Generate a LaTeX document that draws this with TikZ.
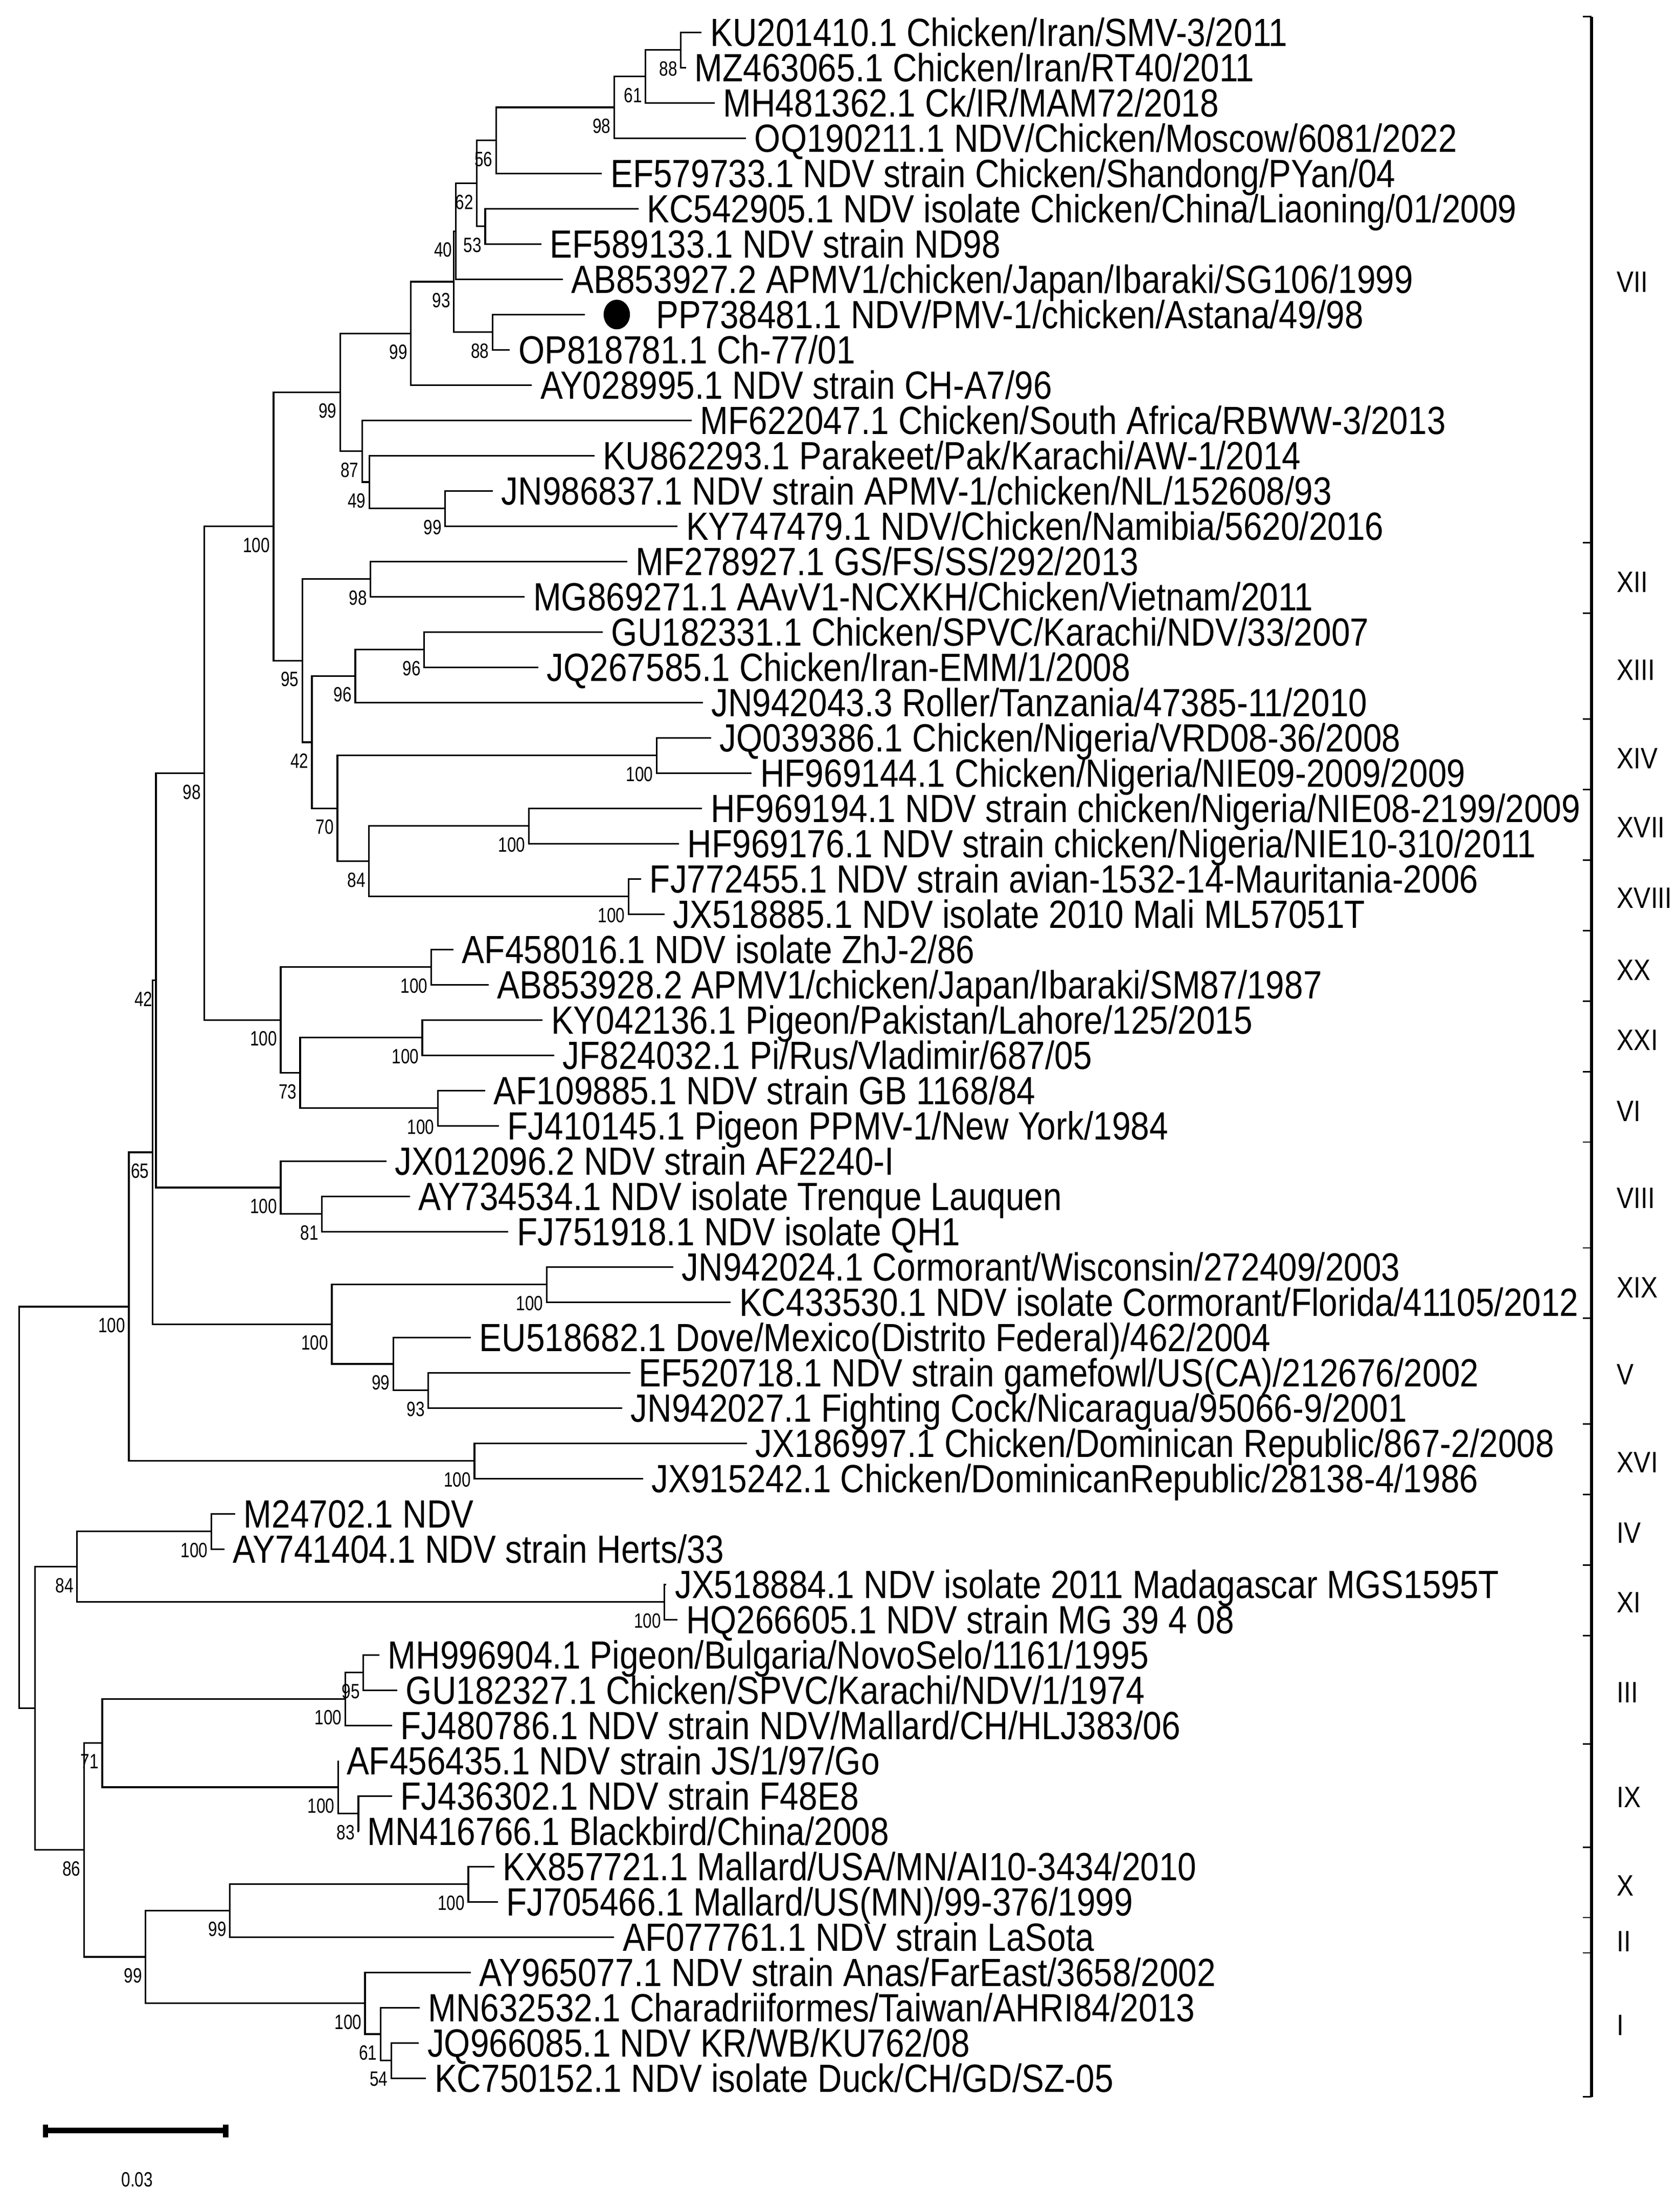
\documentclass[tikz,border=0pt]{standalone}
\usepackage{fontspec}
\newfontfamily\leaffont[FakeStretch=0.855]{Liberation Sans}
\newfontfamily\bsfont[FakeStretch=0.78]{Liberation Sans}
\newfontfamily\grpfont[FakeStretch=0.86]{Liberation Sans}
\tikzset{
  br/.style={line width=0.06cm, line join=miter},
  leaf/.style={anchor=base west, inner sep=0pt, font=\leaffont\fontsize{40}{40}\selectfont},
  bs/.style={anchor=north east, inner sep=0pt, font=\bsfont\fontsize{21}{21}\selectfont},
  grp/.style={anchor=west, inner sep=0pt, font=\grpfont\fontsize{30}{30}\selectfont},
}
\newcommand\leafn[3]{\coordinate (L#1) at (#2,{-25.2*#1+2.1});
  \node[leaf] (T#1) at ([xshift=0.3cm,yshift=-0.5cm]L#1) {#3};}
\newcommand\inode[6]{\coordinate (#1) at (#2,{-25.2*#3+2.1});
  \draw[br] (#1) |- (#4); \draw[br] (#1) |- (#5);
  \node[bs] (bs#1) at ([xshift=-0.12cm,yshift=-0.4cm]#1) {#6};}
\begin{document}
\begin{tikzpicture}[x=0.05cm,y=0.05cm]
\useasboundingbox (0,0) rectangle (1200,-1579.6);
\leafn{1}{501.2}{KU201410.1 Chicken/Iran/SMV-3/2011}
\leafn{2}{490}{MZ463065.1 Chicken/Iran/RT40/2011}
\leafn{3}{510.5}{MH481362.1 Ck/IR/MAM72/2018}
\leafn{4}{532.9}{OQ190211.1 NDV/Chicken/Moscow/6081/2022}
\leafn{5}{430}{EF579733.1 NDV strain Chicken/Shandong/PYan/04}
\leafn{6}{456}{KC542905.1 NDV isolate Chicken/China/Liaoning/01/2009}
\leafn{7}{386.6}{EF589133.1 NDV strain ND98}
\leafn{8}{402}{AB853927.2 APMV1/chicken/Japan/Ibaraki/SG106/1999}
\coordinate (L9) at (417.7,{-25.2*9+2.1});
\node[leaf] (T9) at ([xshift=2.55cm,yshift=-0.5cm]L9) {PP738481.1 NDV/PMV-1/chicken/Astana/49/98};
\fill (440.6,{-25.2*9+2.1}) ellipse [x radius=0.47cm, y radius=0.53cm];
\leafn{10}{364.3}{OP818781.1 Ch-77/01}
\leafn{11}{379.9}{AY028995.1 NDV strain CH-A7/96}
\leafn{12}{494}{MF622047.1 Chicken/South Africa/RBWW-3/2013}
\leafn{13}{424.7}{KU862293.1 Parakeet/Pak/Karachi/AW-1/2014}
\leafn{14}{352}{JN986837.1 NDV strain APMV-1/chicken/NL/152608/93}
\leafn{15}{484}{KY747479.1 NDV/Chicken/Namibia/5620/2016}
\leafn{16}{448}{MF278927.1 GS/FS/SS/292/2013}
\leafn{17}{374.8}{MG869271.1 AAvV1-NCXKH/Chicken/Vietnam/2011}
\leafn{18}{430.6}{GU182331.1 Chicken/SPVC/Karachi/NDV/33/2007}
\leafn{19}{384.5}{JQ267585.1 Chicken/Iran-EMM/1/2008}
\leafn{20}{502}{JN942043.3 Roller/Tanzania/47385-11/2010}
\leafn{21}{508}{JQ039386.1 Chicken/Nigeria/VRD08-36/2008}
\leafn{22}{537}{HF969144.1 Chicken/Nigeria/NIE09-2009/2009}
\leafn{23}{501.6}{HF969194.1 NDV strain chicken/Nigeria/NIE08-2199/2009}
\leafn{24}{485}{HF969176.1 NDV strain chicken/Nigeria/NIE10-310/2011}
\leafn{25}{458}{FJ772455.1 NDV strain avian-1532-14-Mauritania-2006}
\leafn{26}{474.7}{JX518885.1 NDV isolate 2010 Mali ML57051T}
\leafn{27}{324}{AF458016.1 NDV isolate ZhJ-2/86}
\leafn{28}{349}{AB853928.2 APMV1/chicken/Japan/Ibaraki/SM87/1987}
\leafn{29}{387.6}{KY042136.1 Pigeon/Pakistan/Lahore/125/2015}
\leafn{30}{395.8}{JF824032.1 Pi/Rus/Vladimir/687/05}
\leafn{31}{346.6}{AF109885.1 NDV strain GB 1168/84}
\leafn{32}{356.3}{FJ410145.1 Pigeon PPMV-1/New York/1984}
\leafn{33}{276}{JX012096.2 NDV strain AF2240-I}
\leafn{34}{292.8}{AY734534.1 NDV isolate Trenque Lauquen}
\leafn{35}{363.2}{FJ751918.1 NDV isolate QH1}
\leafn{36}{481}{JN942024.1 Cormorant/Wisconsin/272409/2003}
\leafn{37}{522}{KC433530.1 NDV isolate Cormorant/Florida/41105/2012}
\leafn{38}{336.3}{EU518682.1 Dove/Mexico(Distrito Federal)/462/2004}
\leafn{39}{450.3}{EF520718.1 NDV strain gamefowl/US(CA)/212676/2002}
\leafn{40}{444.4}{JN942027.1 Fighting Cock/Nicaragua/95066-9/2001}
\leafn{41}{533.6}{JX186997.1 Chicken/Dominican Republic/867-2/2008}
\leafn{42}{459.3}{JX915242.1 Chicken/DominicanRepublic/28138-4/1986}
\leafn{43}{168}{M24702.1 NDV}
\leafn{44}{160.3}{AY741404.1 NDV strain Herts/33}
\leafn{45}{476}{JX518884.1 NDV isolate 2011 Madagascar MGS1595T}
\leafn{46}{484}{HQ266605.1 NDV strain MG 39 4 08}
\leafn{47}{271}{MH996904.1 Pigeon/Bulgaria/NovoSelo/1161/1995}
\leafn{48}{283.8}{GU182327.1 Chicken/SPVC/Karachi/NDV/1/1974}
\leafn{49}{280}{FJ480786.1 NDV strain NDV/Mallard/CH/HLJ383/06}
\leafn{50}{241.5}{AF456435.1 NDV strain JS/1/97/Go}
\leafn{51}{280}{FJ436302.1 NDV strain F48E8}
\leafn{52}{256.2}{MN416766.1 Blackbird/China/2008}
\leafn{53}{353}{KX857721.1 Mallard/USA/MN/AI10-3434/2010}
\leafn{54}{355.6}{FJ705466.1 Mallard/US(MN)/99-376/1999}
\leafn{55}{438.8}{AF077761.1 NDV strain LaSota}
\leafn{56}{336.3}{AY965077.1 NDV strain Anas/FarEast/3658/2002}
\leafn{57}{299.7}{MN632532.1 Charadriiformes/Taiwan/AHRI84/2013}
\leafn{58}{299.2}{JQ966085.1 NDV KR/WB/KU762/08}
\leafn{59}{304.3}{KC750152.1 NDV isolate Duck/CH/GD/SZ-05}
% internal nodes
\inode{a}{486.3}{1.5}{L1}{L2}{88}
\inode{b}{461.1}{2.25}{a}{L3}{61}
\inode{c}{438.8}{3.125}{b}{L4}{98}
\inode{d}{354.4}{4.0625}{c}{L5}{56}
\inode{e}{346.6}{6.5}{L6}{L7}{53}
\inode{f}{340.6}{5.28125}{d}{e}{62}
\inode{g}{325.5}{6.640625}{f}{L8}{40}
\inode{h}{351.8}{9.5}{L9}{L10}{88}
\inode{i}{324.2}{8.0703}{g}{h}{93}
\inode{j}{293.5}{9.5352}{i}{L11}{99}
\inode{k}{318}{14.5}{L14}{L15}{99}
\inode{l}{263.8}{13.75}{L13}{k}{49}
\inode{m}{258.7}{12.875}{L12}{l}{87}
\inode{n}{243}{11.2051}{j}{m}{99}
\inode{o}{264.6}{16.5}{L16}{L17}{98}
\inode{p}{303}{18.5}{L18}{L19}{96}
\inode{q}{253.8}{19.25}{p}{L20}{96}
\inode{r}{469}{21.5}{L21}{L22}{100}
\inode{s}{377.8}{23.5}{L23}{L24}{100}
\inode{t}{449}{25.5}{L25}{L26}{100}
\inode{u}{263.6}{24.5}{s}{t}{84}
\inode{v}{241}{23}{r}{u}{70}
\inode{w}{222.8}{21.125}{q}{v}{42}
\inode{x}{216}{18.8125}{o}{w}{95}
\inode{y}{195.4}{15.0088}{n}{x}{100}
\inode{za}{308}{27.5}{L27}{L28}{100}
\inode{zb}{301.7}{29.5}{L29}{L30}{100}
\inode{zc}{312.7}{31.5}{L31}{L32}{100}
\inode{zd}{214.4}{30.5}{zb}{zc}{73}
\inode{ze}{200.5}{29}{za}{zd}{100}
\inode{zf}{146}{22.0044}{y}{ze}{98}
\inode{zg}{230}{34.5}{L34}{L35}{81}
\inode{zh}{200.5}{33.75}{L33}{zg}{100}
\inode{zi}{111.4}{27.877}{zf}{zh}{42}
\inode{zj}{390.6}{36.5}{L36}{L37}{100}
\inode{zk}{306}{39.5}{L39}{L40}{93}
\inode{zl}{281}{38.75}{L38}{zk}{99}
\inode{zm}{237}{37.625}{zj}{zl}{100}
\inode{zn}{109}{32.751}{zi}{zm}{65}
\inode{zo}{338.9}{41.5}{L41}{L42}{100}
\inode{zp}{92}{37.126}{zn}{zo}{100}
\inode{ba}{151}{43.5}{L43}{L44}{100}
\inode{bb}{474.7}{45.5}{L45}{L46}{100}
\inode{bc}{55}{44.5}{ba}{bb}{84}
\inode{bd}{259.5}{47.5}{L47}{L48}{95}
\inode{be}{246.7}{48.25}{bd}{L49}{100}
\inode{bf}{256}{51.5}{L51}{L52}{83}
\inode{bg}{241.5}{50.75}{L50}{bf}{100}
\inode{bh}{73}{49.5}{be}{bg}{71}
\inode{bi}{334.5}{53.5}{L53}{L54}{100}
\inode{bj}{164.2}{54.25}{bi}{L55}{99}
\inode{bk}{279.5}{58.5}{L58}{L59}{54}
\inode{bl}{271.8}{57.75}{L57}{bk}{61}
\inode{bm}{260.8}{56.875}{L56}{bl}{100}
\inode{bn}{104}{55.5625}{bj}{bm}{99}
\inode{bo}{60}{52.53}{bh}{bn}{86}
\inode{bp}{25}{48.516}{bc}{bo}{}
\inode{root}{13.6}{42.82}{zp}{bp}{}
% group bracket
\draw[line width=0.11cm] (1137,-12) -- (1137,-1498);
\foreach \yy in {12,387.8,438.2,513.7,564.1,614.5,664.8,715.2,765.6,815.9,891.5,941.8,1017.4,1067.7,1118.1,1168.4,1246,1319.6,1369.9,1395.1,1497.9}
  \draw[line width=0.05cm] (1130.6,-\yy) -- (1137,-\yy);
\foreach \lab/\yy in {VII/201.5,XII/416,XIII/478.5,XIV/542,XVII/591,XVIII/641.6,XX/693,XXI/743,VI/794,VIII/856,XIX/920,V/982,XVI/1044.6,IV/1095,XI/1145,III/1209,IX/1284,X/1347,II/1387,I/1447}
  \node[grp] at (1155,-\yy) {\lab};
% scale bar
\coordinate (sb1) at (32.5,-1522);
\coordinate (sb2) at (161.4,-1522);
\draw[line width=0.2cm] (sb1) -- (sb2);
\fill (30.5,-1518) rectangle (34.5,-1527);
\fill (159.4,-1518) rectangle (163.4,-1527);
\node[bs,anchor=center] at (98,-1557) {0.03};
\end{tikzpicture}
\end{document}
